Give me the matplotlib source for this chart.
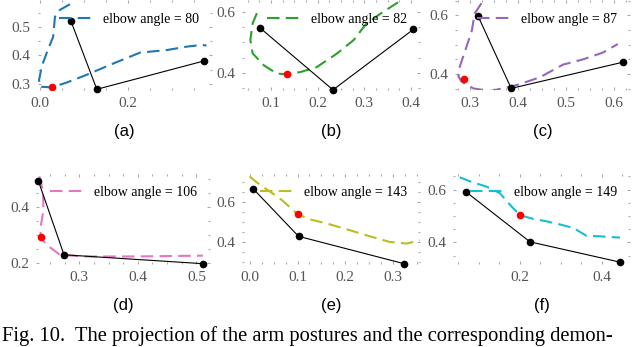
import matplotlib
matplotlib.use("Agg")
import matplotlib.pyplot as plt
from matplotlib.ticker import MultipleLocator, AutoMinorLocator

# dados (6 paineis)
angles = [80, 82, 87, 106, 143, 149]
labels = ["(a)", "(b)", "(c)", "(d)", "(e)", "(f)"]
colors = ["#1f77b4", "#2ca02c", "#9467bd", "#e377c2", "#bcbd22", "#17becf"]

# braco: ombro, cotovelo, mao
arm_a_x = [0.070, 0.129, 0.373]
arm_a_y = [0.522, 0.281, 0.381]
arm_b_x = [0.076, 0.233, 0.405]
arm_b_y = [0.548, 0.345, 0.542]
arm_c_x = [0.317, 0.386, 0.618]
arm_c_y = [0.597, 0.351, 0.440]
arm_d_x = [0.230, 0.274, 0.512]
arm_d_y = [0.496, 0.230, 0.198]
arm_e_x = [0.007, 0.102, 0.324]
arm_e_y = [0.663, 0.428, 0.292]
arm_f_x = [0.069, 0.225, 0.445]
arm_f_y = [0.591, 0.402, 0.325]

# ponto vermelho
red_x = [0.027, 0.134, 0.288, 0.234, 0.100, 0.200]
red_y = [0.288, 0.396, 0.384, 0.294, 0.538, 0.503]

# curvas tracejadas
curve_a_x = [0.068, 0.045, 0.034, 0.030, 0.015, 0.004, -0.002, 0.000, 0.027, 0.061, 0.106, 0.159, 0.227, 0.288, 0.333, 0.367, 0.378]
curve_a_y = [0.580, 0.560, 0.536, 0.466, 0.408, 0.361, 0.314, 0.290, 0.288, 0.305, 0.332, 0.367, 0.410, 0.419, 0.431, 0.437, 0.435]
curve_b_x = [0.070, 0.061, 0.056, 0.061, 0.085, 0.113, 0.134, 0.163, 0.198, 0.241, 0.277, 0.305, 0.341, 0.369, 0.385]
curve_b_y = [0.595, 0.562, 0.507, 0.464, 0.425, 0.398, 0.396, 0.403, 0.419, 0.463, 0.507, 0.562, 0.600, 0.627, 0.645]
curve_c_x = [0.324, 0.310, 0.304, 0.290, 0.278, 0.276, 0.282, 0.307, 0.342, 0.376, 0.401, 0.446, 0.494, 0.536, 0.577, 0.608]
curve_c_y = [0.641, 0.606, 0.548, 0.479, 0.421, 0.392, 0.375, 0.351, 0.342, 0.354, 0.364, 0.389, 0.432, 0.450, 0.473, 0.502]
curve_d_x = [0.232, 0.238, 0.239, 0.234, 0.234, 0.244, 0.267, 0.307, 0.400, 0.511]
curve_d_y = [0.511, 0.460, 0.390, 0.330, 0.294, 0.266, 0.230, 0.224, 0.224, 0.227]
curve_e_x = [-0.001, 0.021, 0.042, 0.067, 0.100, 0.126, 0.161, 0.210, 0.252, 0.294, 0.329, 0.357]
curve_e_y = [0.725, 0.683, 0.650, 0.608, 0.538, 0.512, 0.492, 0.458, 0.428, 0.400, 0.392, 0.408]
curve_f_x = [0.053, 0.086, 0.118, 0.151, 0.176, 0.200, 0.233, 0.265, 0.298, 0.331, 0.363, 0.396, 0.445]
curve_f_y = [0.647, 0.627, 0.612, 0.587, 0.543, 0.503, 0.489, 0.480, 0.468, 0.455, 0.425, 0.423, 0.418]

arms = [(arm_a_x, arm_a_y), (arm_b_x, arm_b_y), (arm_c_x, arm_c_y),
        (arm_d_x, arm_d_y), (arm_e_x, arm_e_y), (arm_f_x, arm_f_y)]
curves = [(curve_a_x, curve_a_y), (curve_b_x, curve_b_y), (curve_c_x, curve_c_y),
          (curve_d_x, curve_d_y), (curve_e_x, curve_e_y), (curve_f_x, curve_f_y)]

# limites e passos dos eixos
xlims = [(-0.005, 0.39), (0.038, 0.419), (0.269, 0.633), (0.227, 0.523), (-0.017, 0.357), (0.037, 0.469)]
ylims = [(0.279, 0.595), (0.345, 0.638), (0.346, 0.652), (0.198, 0.520), (0.292, 0.738), (0.319, 0.660)]
xsteps = [0.2, 0.1, 0.1, 0.1, 0.1, 0.2]
ysteps = [0.1, 0.2, 0.2, 0.2, 0.2, 0.2]

# posicoes dos eixos em fracao da figura
lefts = [0.059, 0.378, 0.711, 0.057, 0.378, 0.708]
rights = [0.331, 0.656, 0.984, 0.328, 0.656, 0.984]
tops = [1.0, 1.0, 1.0, 0.499, 0.499, 0.499]
h = 0.259

fig = plt.figure(figsize=(6.4, 3.47), dpi=100)
serif = "Liberation Serif"

for i in range(6):
    ax = fig.add_axes([lefts[i], tops[i] - h, rights[i] - lefts[i], h])
    cx, cy = curves[i]
    ax.plot(cx, cy, color=colors[i], lw=1.5, dashes=(6, 3), label="elbow angle = %d" % angles[i])
    ax.plot(arms[i][0], arms[i][1], "-o", color="black", lw=0.8, ms=4.5, clip_on=False, zorder=4)
    ax.plot(red_x[i], red_y[i], "o", color="red", ms=4.5, zorder=5)
    ax.set_xlim(xlims[i])
    ax.set_ylim(ylims[i])
    ax.xaxis.set_major_locator(MultipleLocator(xsteps[i]))
    ax.yaxis.set_major_locator(MultipleLocator(ysteps[i]))
    ax.xaxis.set_minor_locator(AutoMinorLocator(4))
    ax.yaxis.set_minor_locator(AutoMinorLocator(2 if ysteps[i] < 0.15 else 4))
    ax.xaxis.set_major_formatter(lambda v, p: "%.1f" % v)
    ax.yaxis.set_major_formatter(lambda v, p: "%.1f" % v)
    for s in ax.spines.values():
        s.set_visible(False)
    ax.tick_params(which="both", direction="in", top=True, right=True, color="#aaaaaa", width=0.8)
    ax.tick_params(which="major", length=2.5, labelsize=11, labelcolor="#555555", pad=5)
    ax.tick_params(which="minor", length=1.2)
    for t in ax.get_xticklabels() + ax.get_yticklabels():
        t.set_fontfamily(serif)
    ax.legend(loc="upper right", frameon=False, handlelength=2.4, handletextpad=0.8,
              prop={"family": serif, "size": 10})
    cxl = (lefts[i] + rights[i]) / 2
    fig.text(cxl, tops[i] - h - 0.12, labels[i], ha="center", va="center",
             family="Liberation Sans", fontsize=12)

# legenda da figura (baseline perto da borda inferior)
fig.text(0.003, 1 - 341 / 347, "Fig. 10.  The projection of the arm postures and the corresponding demon-",
         ha="left", va="baseline", family=serif, fontsize=14.8)

fig.savefig("out.png", dpi=100)
